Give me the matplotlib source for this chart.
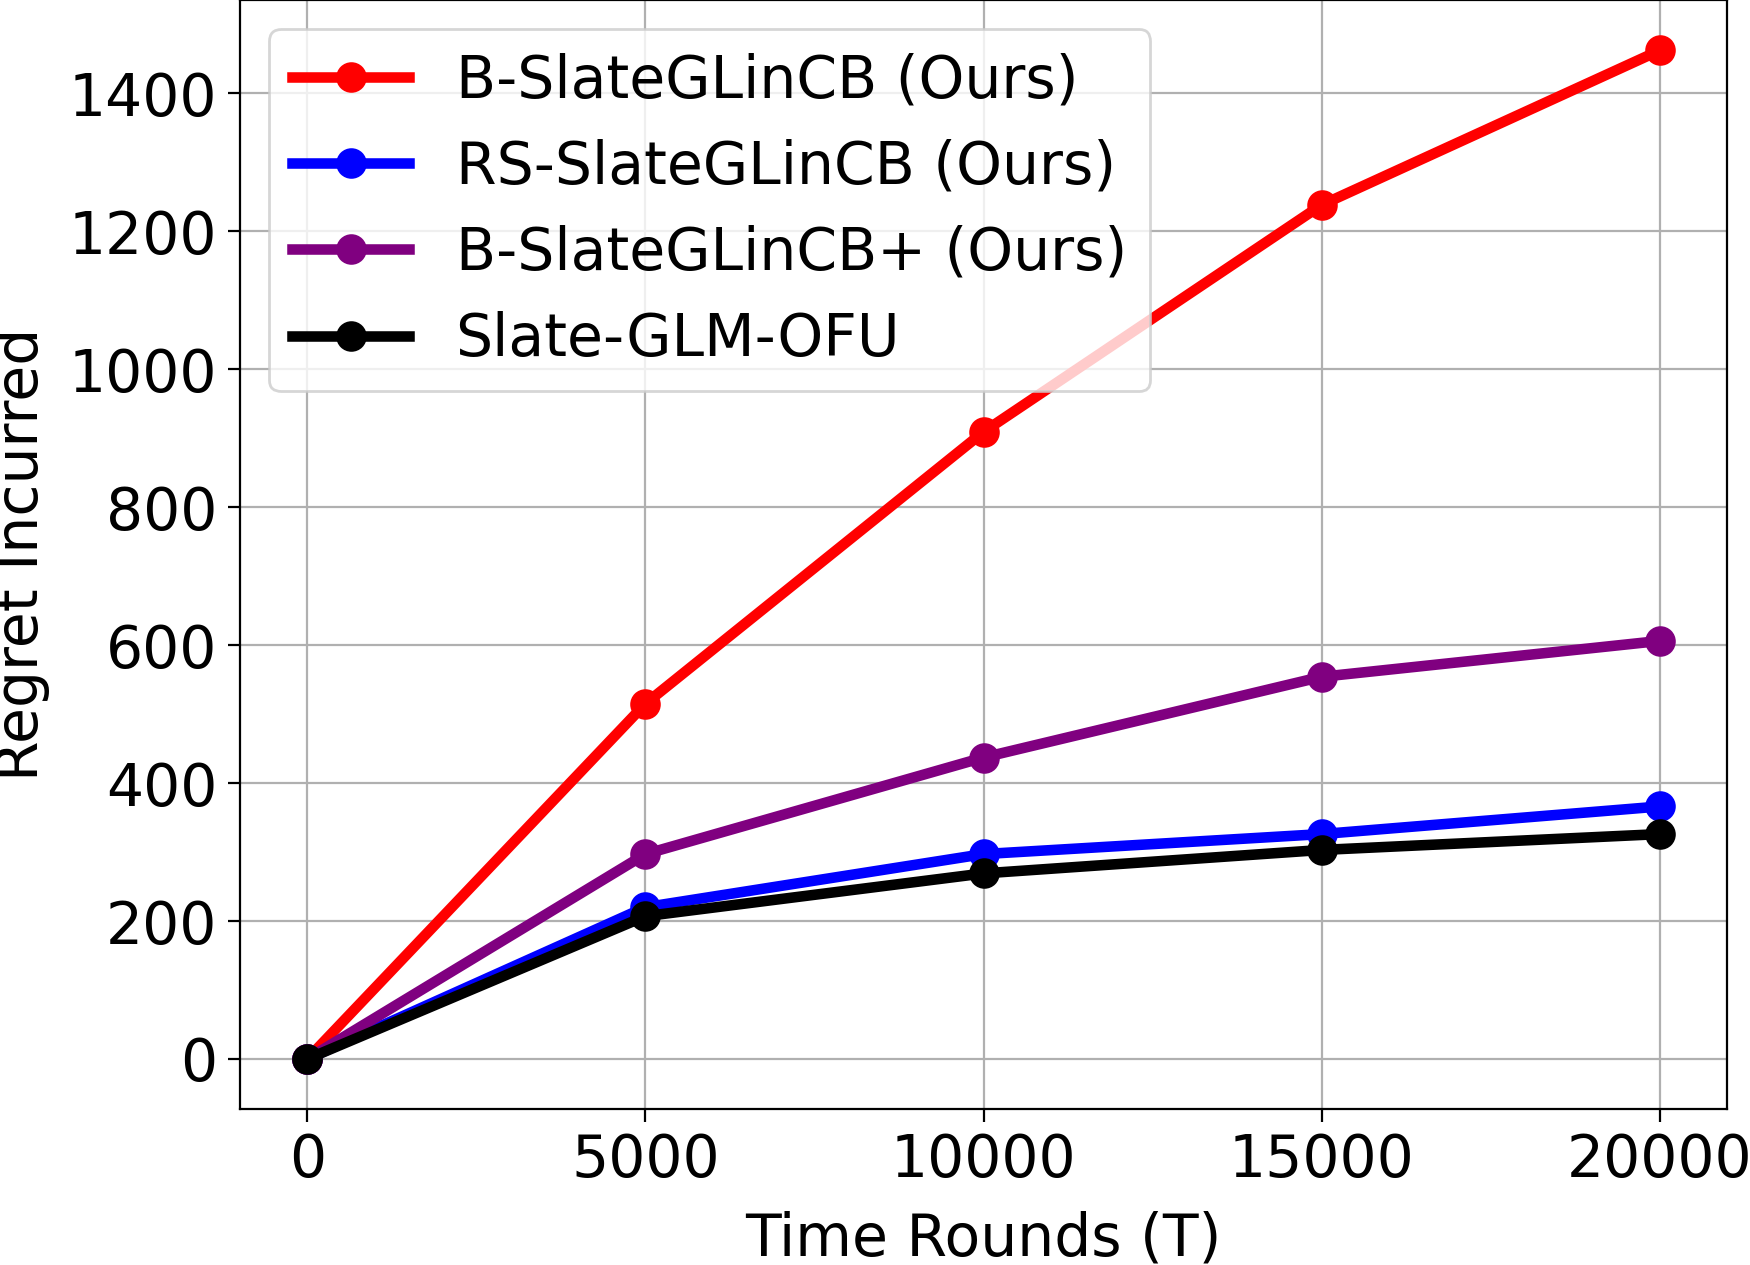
import matplotlib.pyplot as plt
import numpy as np

rounds = [0, 5000, 10000, 15000, 20000]

regret_b = [0, 515, 909, 1238, 1462]
regret_rs = [0, 220, 297, 326, 366]
regret_bplus = [0, 297, 437, 554, 606]
regret_ofu = [0, 207, 269, 303, 326]

labels = ['B-SlateGLinCB (Ours)', 'RS-SlateGLinCB (Ours)',
          'B-SlateGLinCB+ (Ours)', 'Slate-GLM-OFU']
colors = ['red', 'blue', 'purple', 'black']

plt.rcParams['font.size'] = 21

fig = plt.figure(figsize=(8.75, 6.325), dpi=200)
# the reference is cropped tight around the axes, so place it by hand
ax = fig.add_axes([0.137, 0.123, 0.850, 0.877])

for vals, lab, c in zip([regret_b, regret_rs, regret_bplus, regret_ofu], labels, colors):
    ax.plot(rounds, vals, marker='o', color=c, label=lab, linewidth=3.8, markersize=10)

ax.set_xlabel('Time Rounds (T)', labelpad=8)
ax.set_ylabel('Regret Incurred', labelpad=7)
ax.set_xticks([0, 5000, 10000, 15000, 20000])
ax.set_yticks([0, 200, 400, 600, 800, 1000, 1200, 1400])
ax.tick_params(length=4.5)
ax.grid(True)
ax.legend(loc='upper left')

fig.savefig('out.png', dpi=200)
